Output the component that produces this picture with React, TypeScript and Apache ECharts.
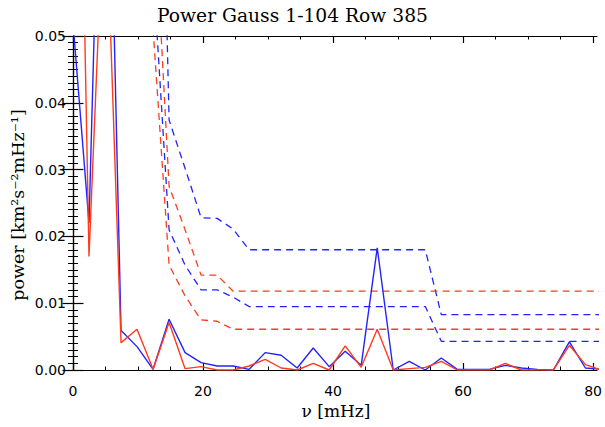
import React, { useEffect, useRef } from "react";
import * as echarts from "echarts";

// frequency grid [mHz]
const freq = [0, 2.46, 4.93, 7.39, 9.85, 12.32, 14.78, 17.24, 19.7, 22.17, 24.63, 27.09, 29.56, 32.02, 34.48, 36.95, 39.41, 41.87, 44.33, 46.8, 49.26, 51.72, 54.19, 56.65, 59.11, 61.58, 64.04, 66.5, 68.96, 71.43, 73.89, 76.35, 78.82, 81.28];

// solid power spectra
const powerBlue = [0.052, 0.022, 0.11, 0.0059, 0.0035, 0.0001, 0.0076, 0.0026, 0.0011, 0.0006, 0.0006, 0.0001, 0.0026, 0.0022, 0.0003, 0.0033, 0.0005, 0.0028, 0.0007, 0.0183, 0.0, 0.0013, 0.0, 0.0018, 0.0001, 0.0001, 0.0001, 0.0007, 0.0003, 0.0001, 0.0, 0.0042, 0.0003, 0.0001];
const powerRed = [0.144, 0.017, 0.075, 0.0041, 0.0061, 0.0001, 0.0071, 0.0002, 0.0005, 0.0, 0.0, 0.0006, 0.0016, 0.0003, 0.0, 0.001, 0.0, 0.0036, 0.0004, 0.0061, 0.0, 0.0002, 0.0004, 0.0013, 0.0, 0.0, 0.0, 0.001, 0.0, 0.0, 0.0, 0.0037, 0.0008, 0.0];

// dashed significance levels
const levelBlueHigh = [1.2, 0.9, 0.6, 0.4, 0.25, 0.14, 0.0374, 0.0302, 0.0228, 0.0227, 0.0211, 0.018, 0.018, 0.018, 0.018, 0.018, 0.018, 0.018, 0.018, 0.018, 0.018, 0.018, 0.018, 0.0083, 0.0083, 0.0083, 0.0083, 0.0083, 0.0083, 0.0083, 0.0083, 0.0083, 0.0083, 0.0083];
const levelBlueLow = [0.9, 0.7, 0.45, 0.3, 0.15, 0.06, 0.021, 0.0157, 0.012, 0.012, 0.0109, 0.0095, 0.0095, 0.0095, 0.0095, 0.0095, 0.0095, 0.0095, 0.0095, 0.0095, 0.0095, 0.0095, 0.0095, 0.0043, 0.0043, 0.0043, 0.0043, 0.0043, 0.0043, 0.0043, 0.0043, 0.0043, 0.0043, 0.0043];
const levelRedHigh = [1.0, 0.8, 0.5, 0.3, 0.16, 0.073, 0.0275, 0.021, 0.0142, 0.0142, 0.0118, 0.0118, 0.0118, 0.0118, 0.0118, 0.0118, 0.0118, 0.0118, 0.0118, 0.0118, 0.0118, 0.0118, 0.0118, 0.0118, 0.0118, 0.0118, 0.0118, 0.0118, 0.0118, 0.0118, 0.0118, 0.0118, 0.0118, 0.0118];
const levelRedLow = [0.8, 0.6, 0.4, 0.25, 0.12, 0.051, 0.0157, 0.0111, 0.0075, 0.0073, 0.0061, 0.0061, 0.0061, 0.0061, 0.0061, 0.0061, 0.0061, 0.0061, 0.0061, 0.0061, 0.0061, 0.0061, 0.0061, 0.0061, 0.0061, 0.0061, 0.0061, 0.0061, 0.0061, 0.0061, 0.0061, 0.0061, 0.0061, 0.0061];

const xMajorTicks = [0, 20, 40, 60, 80];
const xMinorTicks = [5, 10, 15, 25, 30, 35, 45, 50, 55, 65, 70, 75];

const TITLE = "Power Gauss 1-104 Row 385";
const Y_NAME = "power [km²s⁻²mHz⁻¹]";
const X_NAME = "ν [mHz]";

const BLUE = "#2323ff";
const RED = "#ff3b1c";

const pair = (ys: number[]) => ys.map((y, i) => [freq[i], y]);

export default function App() {
  const ref = useRef<HTMLDivElement>(null);
  useEffect(() => {
    if (!ref.current) return;
    const chart = echarts.init(ref.current, null, { renderer: "svg" });
    const axisLine = { show: true, lineStyle: { color: "#000", width: 1.2 } };
    const baseX = {
      type: "value",
      min: 0,
      max: 80.6,
      splitLine: { show: false },
      axisLine,
    };
    const baseY = {
      type: "value",
      min: 0,
      max: 0.05,
      interval: 0.01,
      splitLine: { show: false },
      axisLine,
      axisTick: { show: true, inside: true, length: 10.5, lineStyle: { color: "#000", width: 1.2 } },
      minorTick: { show: true, splitNumber: 10, length: 5, lineStyle: { color: "#000", width: 1 } },
    };
    const dashed = (data: number[], color: string) => ({
      type: "line",
      data: pair(data),
      showSymbol: false,
      symbol: "none",
      silent: true,
      lineStyle: { color, width: 1.3, type: [7, 5] },
      clip: true,
    });
    const solid = (data: number[], color: string) => ({
      type: "line",
      data: pair(data),
      showSymbol: false,
      symbol: "none",
      silent: true,
      lineStyle: { color, width: 1.4 },
      clip: true,
    });
    chart.setOption({
      animation: false,
      backgroundColor: "#fff",
      grid: { left: 73, top: 36, width: 529, height: 334 },
      xAxis: [
        {
          ...baseX,
          position: "bottom",
          axisTick: { show: true, inside: true, length: 7, customValues: xMajorTicks, lineStyle: { color: "#000", width: 1.2 } },
          axisLabel: { show: true, customValues: xMajorTicks, margin: 14, fontFamily: "DejaVu Sans", fontSize: 14, color: "#000" },
        },
        {
          ...baseX,
          position: "bottom",
          axisLine: { show: false },
          axisTick: { show: true, inside: true, length: 3.5, customValues: xMinorTicks, lineStyle: { color: "#000", width: 1 } },
          axisLabel: { show: false },
        },
        {
          ...baseX,
          position: "top",
          axisTick: { show: true, inside: true, length: 7, customValues: xMajorTicks, lineStyle: { color: "#000", width: 1.2 } },
          axisLabel: { show: false },
        },
        {
          ...baseX,
          position: "top",
          axisLine: { show: false },
          axisTick: { show: true, inside: true, length: 3.5, customValues: xMinorTicks, lineStyle: { color: "#000", width: 1 } },
          axisLabel: { show: false },
        },
      ],
      yAxis: [
        {
          ...baseY,
          position: "left",
          axisLabel: {
            show: true,
            margin: 7,
            fontFamily: "DejaVu Sans",
            fontSize: 14,
            color: "#000",
            formatter: (v: number) => v.toFixed(2),
          },
        },
        {
          ...baseY,
          position: "right",
          axisLabel: { show: false },
        },
      ],
      graphic: [
        {
          type: "text",
          x: 292.5,
          y: 15,
          style: { text: TITLE, font: "18.7px 'DejaVu Serif'", fill: "#000", align: "center", verticalAlign: "middle" },
        },
        {
          type: "text",
          x: 18,
          y: 205,
          rotation: Math.PI / 2,
          style: { text: Y_NAME, font: "17.5px 'DejaVu Serif'", fill: "#000", align: "center", verticalAlign: "middle" },
        },
        {
          type: "text",
          x: 336,
          y: 411,
          style: { text: X_NAME, font: "17px 'DejaVu Serif'", fill: "#000", align: "center", verticalAlign: "middle" },
        },
      ],
      series: [
        dashed(levelBlueHigh, BLUE),
        dashed(levelBlueLow, BLUE),
        dashed(levelRedHigh, RED),
        dashed(levelRedLow, RED),
        solid(powerBlue, BLUE),
        solid(powerRed, RED),
      ],
    });
    return () => chart.dispose();
  }, []);
  return (
    <div
      ref={ref}
      style={{ position: "fixed", left: 0, top: 0, width: 605, height: 427, background: "#fff" }}
    />
  );
}
